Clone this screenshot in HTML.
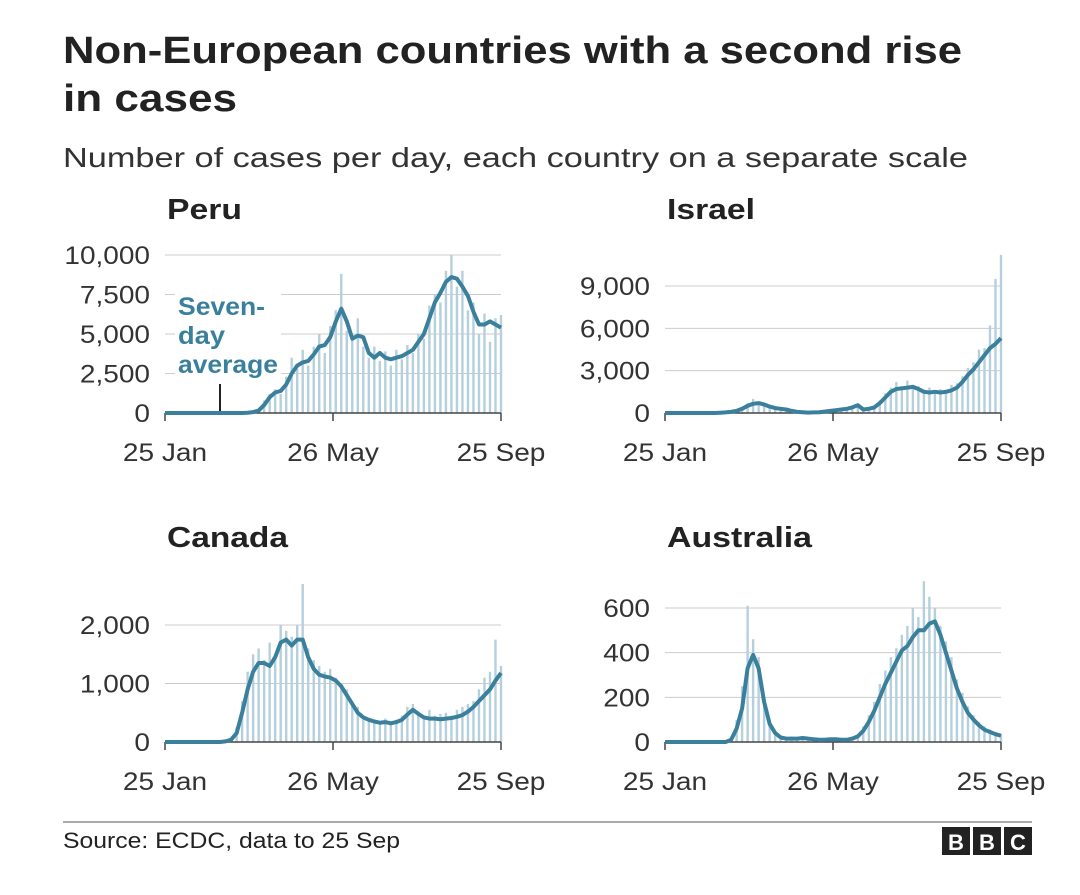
<!DOCTYPE html>
<html><head><meta charset="utf-8">
<style>
body{margin:0;background:#fff;}
svg{display:block;font-family:"Liberation Sans",Arial,sans-serif;}
</style></head>
<body>
<svg id="chart" width="1080" height="895" viewBox="0 0 1080 895">
<rect width="1080" height="895" fill="#fff"/>
<text x="63" y="63" font-size="38" font-weight="bold" fill="#222" textLength="899" lengthAdjust="spacingAndGlyphs">Non-European countries with a second rise</text>
<text x="63" y="111" font-size="38" font-weight="bold" fill="#222" textLength="174" lengthAdjust="spacingAndGlyphs">in cases</text>
<text x="63" y="167" font-size="28" fill="#333" textLength="905" lengthAdjust="spacingAndGlyphs">Number of cases per day, each country on a separate scale</text>
<g id="panels"></g>
<line x1="63" y1="822" x2="1032" y2="822" stroke="#555" stroke-width="1"/>
<text x="63" y="848" font-size="22" fill="#222" textLength="337" lengthAdjust="spacingAndGlyphs">Source: ECDC, data to 25 Sep</text>
<g>
<rect x="942" y="827" width="28" height="28" fill="#222"/><rect x="973" y="827" width="28" height="28" fill="#222"/><rect x="1004" y="827" width="28" height="28" fill="#222"/>
<text x="956" y="850" font-size="22" font-weight="bold" fill="#fff" text-anchor="middle">B</text>
<text x="987" y="850" font-size="22" font-weight="bold" fill="#fff" text-anchor="middle">B</text>
<text x="1018" y="850" font-size="22" font-weight="bold" fill="#fff" text-anchor="middle">C</text>
</g>
</svg>
<script>
const xTickLabels = ["25 Jan","26 May","25 Sep"];
const xTickDays = [0,122,244];
const sampleStepDays = 4;
const peruAvg = [0,0,0,0,0,0,0,0,0,0,0,0,0,0,0,20,60,150,500,1000,1300,1400,1800,2500,3000,3200,3300,3700,4200,4300,4800,5800,6600,5800,4700,4900,4800,3800,3500,3800,3500,3400,3500,3600,3800,4000,4500,5000,6000,7000,7600,8300,8600,8500,8000,7400,6400,5600,5600,5800,5600,5400];
const peruBars = [0,0,0,0,0,0,0,0,0,0,0,0,0,0,0,0,100,300,800,1200,1500,1200,2300,3500,2800,4000,3000,4200,5000,3800,5500,6500,8800,5200,5000,6000,4200,3500,4200,3300,3900,3000,4000,3400,4300,3800,5000,4700,6800,7500,7000,9000,10000,8000,9000,6500,7000,5000,6300,4500,6000,6200];
const israelAvg = [0,0,0,0,0,0,0,0,0,0,20,40,80,150,300,500,650,700,600,450,350,300,250,150,80,50,30,40,60,100,150,200,250,300,400,550,250,300,400,700,1100,1500,1700,1750,1800,1850,1700,1500,1450,1500,1450,1500,1600,1800,2200,2700,3100,3600,4100,4600,4900,5300];
const israelBars = [0,0,0,0,0,0,0,0,0,0,30,60,120,200,400,700,1000,800,700,500,400,350,300,200,100,60,40,50,80,120,200,250,300,350,450,600,300,400,500,900,1400,1800,2200,1900,2300,2000,1900,1600,1800,1500,1700,1600,2000,2100,2600,3200,3600,4500,4600,6200,9500,11200];
const canadaAvg = [0,0,0,0,0,0,0,0,0,0,0,10,40,150,500,900,1200,1350,1350,1300,1450,1700,1750,1650,1750,1750,1450,1250,1150,1120,1100,1050,950,800,650,500,420,380,350,330,340,320,340,380,470,550,480,420,400,400,390,400,410,430,460,520,600,700,800,900,1050,1180];
const canadaBars = [0,0,0,0,0,0,0,0,0,0,0,20,60,250,700,1200,1500,1600,1400,1700,1500,2000,1900,1800,2000,2700,1600,1400,1300,1200,1250,1100,1000,900,700,600,450,400,380,350,400,350,380,450,600,650,500,450,550,450,480,500,450,550,600,650,700,900,1100,1200,1750,1300];
const ausAvg = [0,0,0,0,0,0,0,0,0,0,0,0,10,60,150,330,390,330,180,80,40,20,15,15,15,18,15,12,10,10,12,12,10,10,15,25,50,90,140,200,260,310,360,410,430,470,500,500,530,540,480,400,320,240,180,130,100,75,55,45,35,28];
const ausBars = [0,0,0,0,0,0,0,0,0,0,0,0,20,100,250,610,460,380,200,100,50,30,20,25,20,25,20,15,15,12,18,15,12,15,20,35,70,120,180,260,320,380,420,480,520,600,560,720,650,600,520,450,380,280,220,160,120,90,70,55,45,35];

const panels = [
 {name:"peru", title:"Peru", tw:75, x0:165, x1:501, y0:413, ticks:[0,2500,5000,7500,10000], labels:["0","2,500","5,000","7,500","10,000"], avg:peruAvg, bars:peruBars, titleY:219, pxPerUnit:(413-255)/10000},
 {name:"israel", title:"Israel", tw:88, x0:665, x1:1001, y0:413, ticks:[0,3000,6000,9000], labels:["0","3,000","6,000","9,000"], avg:israelAvg, bars:israelBars, titleY:219, pxPerUnit:(413-286)/9000},
 {name:"canada", title:"Canada", tw:121, x0:165, x1:501, y0:742, ticks:[0,1000,2000], labels:["0","1,000","2,000"], avg:canadaAvg, bars:canadaBars, titleY:547, pxPerUnit:(742-625)/2000},
 {name:"australia", title:"Australia", tw:145, x0:665, x1:1001, y0:742, ticks:[0,200,400,600], labels:["0","200","400","600"], avg:ausAvg, bars:ausBars, titleY:547, pxPerUnit:(742-608)/600}
];

const NS = "http://www.w3.org/2000/svg";
const root = document.getElementById("panels");
function mk(tag, attrs, parent){ const e=document.createElementNS(NS,tag); for(const k in attrs) e.setAttribute(k,attrs[k]); parent.appendChild(e); return e; }
function widen(el, f){ const w = el.getComputedTextLength(); el.setAttribute("textLength", (w*f).toFixed(1)); el.setAttribute("lengthAdjust","spacingAndGlyphs"); }

panels.forEach(p=>{
  const g = mk("g",{},root);
  
  
  const xs = d => p.x0 + d*(p.x1-p.x0)/244;
  const ys = v => p.y0 - v*p.pxPerUnit;
  const t = mk("text",{x:p.x0+2,y:p.titleY,"font-size":29,"font-weight":"bold",fill:"#222",textLength:p.tw,lengthAdjust:"spacingAndGlyphs"},g);
  t.textContent = p.title;
  
  
  p.ticks.forEach((v,i)=>{
    if(v>0){
      const gl = mk("line",{x1:p.x0,x2:p.x1,y1:ys(v),y2:ys(v),stroke:"#ccc","stroke-width":1},g);
      
      
    }
    const tl = mk("text",{x:p.x0-15,y:ys(v)+9,"font-size":25,fill:"#333","text-anchor":"end"},g);
    tl.textContent = p.labels[i];
    
    
    widen(tl,1.12);
  });
  p.bars.forEach((v,i)=>{
    if(v<=0) return;
    const x = xs(i*sampleStepDays);
    const b = mk("rect",{x:x-1.2,y:ys(v),width:2.4,height:p.y0-ys(v),fill:"#b5d0dc"},g);
    
    
  });
  const ax = mk("line",{x1:p.x0,x2:p.x1,y1:p.y0,y2:p.y0,stroke:"#444","stroke-width":1.5},g);
  
  
  xTickDays.forEach((d,i)=>{
    const tk = mk("line",{x1:xs(d),x2:xs(d),y1:p.y0,y2:p.y0+8,stroke:"#444","stroke-width":1.5},g);
    
    
    const tl = mk("text",{x:xs(d),y:p.y0+48,"font-size":25,fill:"#333","text-anchor":"middle"},g);
    tl.textContent = xTickLabels[i];
    
    
    widen(tl,1.12);
  });
  const pts = p.avg.map((v,i)=>xs(i*sampleStepDays).toFixed(1)+","+ys(v).toFixed(1)).join(" ");
  const ln = mk("polyline",{points:pts,fill:"none",stroke:"#3a7f9c","stroke-width":4,"stroke-linejoin":"round"},g);
  
  
  if(p.name==="peru"){
    const a = mk("g",{},g);
    
    
    mk("rect",{x:175,y:290,width:106,height:90,fill:"#fff"},a);
    [["Seven-",315,87],["day",344,47],["average",373,100]].forEach(([s,y,w])=>{
      const tt = mk("text",{x:178,y:y,"font-size":25,"font-weight":"bold",fill:"#3a7f9c",textLength:w,lengthAdjust:"spacingAndGlyphs"},a);
      tt.textContent = s;
    });
    mk("line",{x1:220,x2:220,y1:384,y2:411,stroke:"#222","stroke-width":2},a);
  }
});
</script>
</body></html>
